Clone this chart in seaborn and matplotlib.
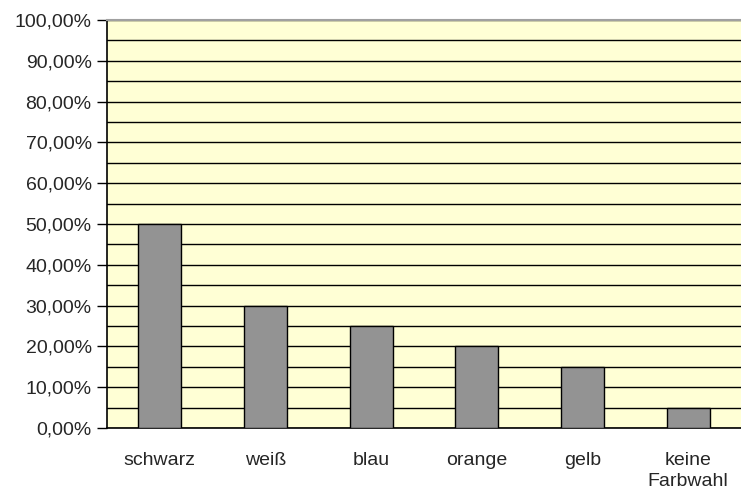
import numpy as np
import pandas as pd
import seaborn as sns
import matplotlib
matplotlib.use("Agg")
import matplotlib.pyplot as plt
from matplotlib.ticker import MultipleLocator, FuncFormatter

farben = ["schwarz", "weiß", "blau", "orange", "gelb", "keine\nFarbwahl"]
anteile = [0.50, 0.30, 0.25, 0.20, 0.15, 0.05]

df = pd.DataFrame({"farbe": farben, "anteil": anteile})

sns.set_style("white")
plt.rcParams["font.family"] = ["Liberation Sans", "DejaVu Sans"]

fig = plt.figure(figsize=(7.41, 4.90), dpi=100)
ax = fig.add_axes([107 / 741, 62 / 490, 634 / 741, 408 / 490])
ax.set_facecolor("#FFFFD5")

sns.barplot(data=df, x="farbe", y="anteil", color="#939393", saturation=1,
            edgecolor="black", linewidth=1, width=0.41, ax=ax, zorder=3)

ax.set_ylim(0, 1)
ax.set_xlim(-0.5, len(farben) - 0.5)
ax.yaxis.set_major_locator(MultipleLocator(0.1))
ax.yaxis.set_minor_locator(MultipleLocator(0.05))
ax.yaxis.set_major_formatter(FuncFormatter(lambda v, p: f"{v*100:.2f}%".replace(".", ",")))
ax.grid(True, which="both", axis="y", color="black", linewidth=1, zorder=1)
ax.set_axisbelow(True)

ax.tick_params(axis="y", which="major", left=True, length=7, width=1, color="black",
               labelsize=14, pad=4)
ax.tick_params(axis="y", which="minor", left=False)
ax.tick_params(axis="x", bottom=False, labelsize=14, pad=14)
for lbl in ax.get_xticklabels():
    lbl.set_linespacing(1.3)
ax.set_xlabel("")
ax.set_ylabel("")

for s in ["left", "bottom"]:
    ax.spines[s].set_color("black")
    ax.spines[s].set_linewidth(1.2)
ax.spines["top"].set_color("#A0A0A0")
ax.spines["top"].set_linewidth(1.5)
ax.spines["right"].set_visible(False)

fig.savefig("out.png", dpi=100)
